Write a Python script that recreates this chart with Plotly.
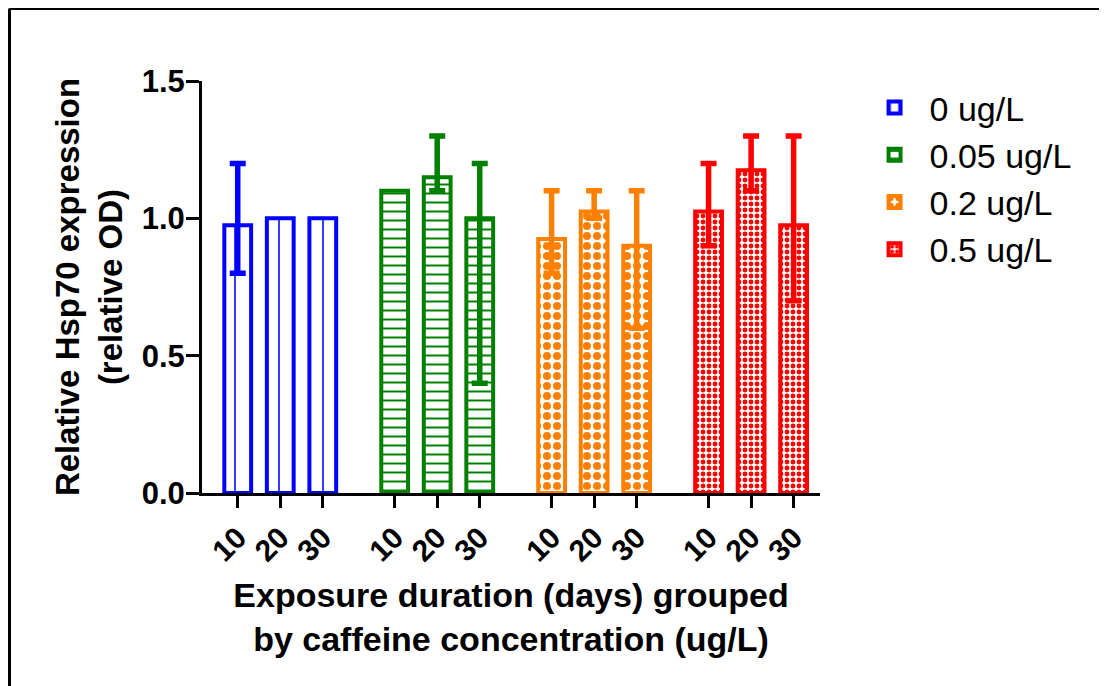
import plotly.graph_objects as go

# ---- data ----
concentrations = ["0 ug/L", "0.05 ug/L", "0.2 ug/L", "0.5 ug/L"]
days = ["10", "20", "30"]

mean_0 = [0.975, 1.00, 1.00]
mean_005 = [1.10, 1.15, 1.00]
mean_02 = [0.925, 1.025, 0.90]
mean_05 = [1.025, 1.175, 0.975]

upper_0 = [1.20, None, None]
upper_005 = [None, 1.30, 1.20]
upper_02 = [1.10, 1.10, 1.10]
upper_05 = [1.20, 1.30, 1.30]

lower_0 = [0.80, None, None]
lower_005 = [None, 1.10, 0.40]
lower_02 = [0.80, 1.00, 0.60]
lower_05 = [0.90, 1.10, 0.70]

means = [mean_0, mean_005, mean_02, mean_05]
uppers = [upper_0, upper_005, upper_02, upper_05]
lowers = [lower_0, lower_005, lower_02, lower_05]

# ---- styling ----
colors = ["#0000FF", "#008000", "#FF8000", "#FF0000"]
patterns = [
    dict(shape="|", size=22, solidity=0.07),
    dict(shape="-", size=9, solidity=0.22),
    dict(shape=".", size=10, solidity=0.5),
    dict(shape=".", size=6, solidity=0.5),
]
GROUP_STEP = 3.69
FONT = "Liberation Sans, Arial, sans-serif"

# the page body adds an 8px offset, so the figure is 8px smaller
W, H = 1099, 678
ML, MT, PW, PH = 194, 73, 618, 412

fig = go.Figure()
tickvals, ticktext = [], []
for g, name in enumerate(concentrations):
    xs = [g * GROUP_STEP + i for i in range(len(days))]
    tickvals += xs
    ticktext += days
    m = means[g]
    pat = dict(patterns[g])
    pat.update(fgcolor=colors[g], bgcolor="white", fillmode="replace")
    fig.add_trace(go.Bar(
        x=xs, y=m, name=name, width=0.63,
        legendgroup=name,
        marker=dict(color="white", pattern=pat,
                    line=dict(color=colors[g], width=4)),
    ))
    # error bars only where the reference shows them
    ex, ey, ep, em = [], [], [], []
    for x, v, u, l in zip(xs, m, uppers[g], lowers[g]):
        if u is None:
            continue
        ex.append(x)
        ey.append(v)
        ep.append(u - v)
        em.append(v - l)
    fig.add_trace(go.Scatter(
        x=ex, y=ey, mode="markers", marker=dict(size=0.1, color=colors[g]),
        showlegend=False, legendgroup=name, hoverinfo="skip",
        error_y=dict(type="data", symmetric=False, array=ep, arrayminus=em,
                     color=colors[g], thickness=5.5, width=8),
    ))

fig.update_layout(
    width=W, height=H,
    margin=dict(l=ML, r=W - ML - PW, t=MT, b=H - MT - PH, autoexpand=False),
    paper_bgcolor="white", plot_bgcolor="white",
    showlegend=True,
    legend=dict(x=1.064, y=1.005, xanchor="left", yanchor="top",
                font=dict(family=FONT, size=34, color="black"),
                itemwidth=60, tracegroupgap=10, traceorder="normal",
                bgcolor="rgba(0,0,0,0)"),
    font=dict(family=FONT, color="black"),
    shapes=[
        dict(type="line", xref="paper", yref="paper",
             x0=(1.5 - ML) / PW, x1=(W + 5 - ML) / PW,
             y0=1 + (MT - 0.5) / PH, y1=1 + (MT - 0.5) / PH,
             line=dict(color="black", width=3)),
        dict(type="line", xref="paper", yref="paper",
             x0=(1.5 - ML) / PW, x1=(1.5 - ML) / PW,
             y0=1 + (MT - 0.5) / PH, y1=-(H + 5 - MT - PH) / PH,
             line=dict(color="black", width=3)),
    ],
)

fig.update_xaxes(
    range=[-0.84, 13.69], tickmode="array", tickvals=tickvals, ticktext=ticktext,
    tickangle=-45, showline=True, linewidth=3, linecolor="black",
    ticks="outside", ticklen=12, tickwidth=3, tickcolor="black",
    showgrid=False, zeroline=False, automargin=False,
    tickfont=dict(family=FONT, size=30, weight="bold", color="black"),
    title=dict(text="Exposure duration (days) grouped<br>by caffeine concentration (ug/L)",
               font=dict(family=FONT, size=34, weight="bold", color="black"),
               standoff=17),
)
fig.update_yaxes(
    range=[0, 1.5], tickmode="array", tickvals=[0, 0.5, 1.0, 1.5], tickformat=".1f",
    showline=True, linewidth=3, linecolor="black",
    ticks="outside", ticklen=13, tickwidth=3, tickcolor="black",
    showgrid=False, zeroline=False, automargin=False,
    ticklabelstandoff=-5,
    tickfont=dict(family=FONT, size=31, weight="bold", color="black"),
    title=dict(text="Relative Hsp70 expression<br>(relative OD)",
               font=dict(family=FONT, size=33, weight="bold", color="black"),
               standoff=10),
)

fig.write_html("out.html")
